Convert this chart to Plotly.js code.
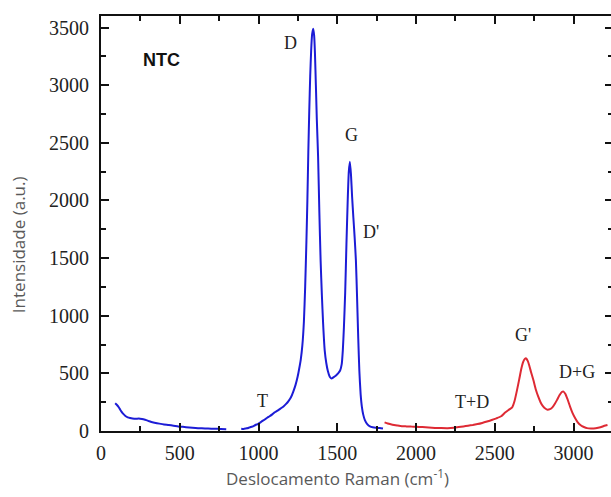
<!DOCTYPE html>
<html>
<head>
<meta charset="utf-8">
<script src="https://cdn.plot.ly/plotly-3.0.1.min.js"></script>
<style>
html,body{margin:0;padding:0;overflow:hidden;background:#fff;}
#chart{width:614px;height:497px;}
</style>
</head>
<body>
<div id="chart"></div>
<script>
const blueLowX = [90, 100, 110, 120, 130, 140, 155, 170, 185, 200, 220, 240, 260, 280, 300, 320, 340, 370, 400, 430, 460, 490, 520, 560, 600, 640, 680, 720, 760, 795];
const blueLowY = [240, 228, 212, 190, 168, 150, 130, 118, 112, 108, 106, 108, 104, 97, 88, 78, 72, 64, 57, 52, 46, 40, 36, 31, 26, 23, 21, 19, 18, 16];
const blueX = [890, 905, 920, 935, 950, 965, 980, 995, 1010, 1025, 1040, 1055, 1070, 1085, 1100, 1115, 1130, 1145, 1160, 1175, 1190, 1205, 1220, 1235, 1248, 1258, 1268, 1278, 1288, 1296, 1304, 1310, 1316, 1322, 1328, 1334, 1340, 1347, 1353, 1358, 1364, 1370, 1378, 1386, 1394, 1402, 1410, 1420, 1430, 1440, 1452, 1463, 1475, 1490, 1505, 1518, 1528, 1535, 1542, 1550, 1558, 1566, 1573, 1580, 1587, 1594, 1602, 1610, 1618, 1625, 1633, 1640, 1648, 1656, 1665, 1675, 1690, 1707, 1725, 1745, 1770, 1790];
const blueY = [20, 18, 22, 26, 35, 40, 52, 60, 72, 88, 100, 115, 128, 142, 160, 172, 185, 200, 215, 235, 260, 290, 340, 400, 470, 540, 620, 740, 950, 1250, 1650, 2000, 2420, 2780, 3080, 3300, 3440, 3490, 3430, 3280, 3000, 2700, 2380, 1900, 1480, 1180, 930, 700, 590, 520, 470, 455, 465, 480, 500, 525, 580, 700, 900, 1200, 1620, 2000, 2250, 2335, 2220, 2030, 1850, 1680, 1480, 1180, 800, 520, 320, 210, 140, 95, 60, 40, 32, 28, 26, 22];
const redX = [1800, 1820, 1850, 1880, 1910, 1940, 1970, 2000, 2040, 2080, 2120, 2160, 2200, 2240, 2270, 2300, 2330, 2360, 2390, 2420, 2450, 2480, 2510, 2540, 2565, 2590, 2610, 2625, 2640, 2655, 2668, 2680, 2690, 2699, 2708, 2718, 2730, 2745, 2760, 2775, 2790, 2805, 2820, 2835, 2850, 2865, 2880, 2895, 2910, 2925, 2936, 2948, 2960, 2978, 2995, 3010, 3025, 3045, 3065, 3085, 3110, 3140, 3170, 3195, 3215];
const redY = [75, 65, 55, 48, 42, 40, 38, 37, 34, 30, 27, 25, 24, 28, 34, 40, 46, 52, 60, 70, 82, 95, 110, 128, 160, 185, 205, 260, 350, 450, 540, 600, 625, 630, 610, 570, 510, 440, 360, 300, 250, 215, 195, 185, 190, 205, 235, 270, 310, 338, 342, 320, 280, 210, 150, 110, 78, 50, 35, 25, 22, 24, 32, 45, 52];

const bandLabels = ["D", "G", "D'", "T", "T+D", "G'", "D+G"];
const bandLabelX = [1200, 1593, 1714, 1028, 2355, 2679, 3021];
const bandLabelY = [3365, 2567, 1726, 260, 252, 833, 512];

const xTickVals = [0, 500, 1000, 1500, 2000, 2500, 3000];
const yTickVals = [0, 500, 1000, 1500, 2000, 2500, 3000, 3500];

const blue = 'rgb(28,28,214)';
const red = 'rgb(222,42,52)';
const serif = 'Liberation Serif';

const lineOpts = c => ({color: c, width: 2, shape: 'spline', smoothing: 0.5});
const traces = [
  {x: blueLowX, y: blueLowY, type: 'scatter', mode: 'lines', line: lineOpts(blue), hoverinfo: 'skip'},
  {x: blueX, y: blueY, type: 'scatter', mode: 'lines', line: lineOpts(blue), hoverinfo: 'skip'},
  {x: redX, y: redY, type: 'scatter', mode: 'lines', line: lineOpts(red), hoverinfo: 'skip'}
];

const annotations = bandLabels.map((t, i) => ({
  text: t, x: bandLabelX[i], y: bandLabelY[i], xref: 'x', yref: 'y',
  showarrow: false, font: {family: serif, size: 18, color: '#222'}
}));
annotations.push({
  text: '<b>NTC</b>', x: 381, y: 3218, xref: 'x', yref: 'y', showarrow: false,
  font: {family: 'Liberation Sans', size: 18, color: '#111'}
});
annotations.push({
  text: 'Deslocamento Raman (cm<sup>-1</sup>)', x: 0.461, y: -0.113, xref: 'paper', yref: 'paper',
  showarrow: false, xanchor: 'center', yanchor: 'middle',
  font: {family: 'Open Sans', size: 17, color: '#595959'}
});
annotations.push({
  text: 'Intensidade (a.u.)', x: -0.162, y: 0.448, xref: 'paper', yref: 'paper',
  showarrow: false, xanchor: 'center', yanchor: 'middle', textangle: -90,
  font: {family: 'Open Sans', size: 17, color: '#595959'}
});

const minorTicks = {dtick: 250, ticks: 'inside', ticklen: 5, tickwidth: 2, tickcolor: '#111', showgrid: false};
const tickFont = {family: serif, size: 20, color: '#222'};

const layout = {
  width: 614, height: 497,
  margin: {l: 101, r: 1, t: 16, b: 66},
  paper_bgcolor: '#fff', plot_bgcolor: '#fff',
  showlegend: false,
  xaxis: {
    range: [0, 3250], tickmode: 'array', tickvals: xTickVals,
    showgrid: false, zeroline: false, showline: true, linecolor: '#111', linewidth: 2,
    mirror: 'ticks', ticks: 'inside', ticklen: 8, tickwidth: 2, tickcolor: '#111',
    tickfont: tickFont, ticklabelstandoff: 3, minor: minorTicks
  },
  yaxis: {
    range: [0, 3600], tickmode: 'array', tickvals: yTickVals,
    showgrid: false, zeroline: false, showline: true, linecolor: '#111', linewidth: 2,
    mirror: 'ticks', ticks: 'inside', ticklen: 8, tickwidth: 2, tickcolor: '#111',
    tickfont: tickFont, ticklabelstandoff: 6, minor: minorTicks
  },
  annotations: annotations
};

Plotly.newPlot('chart', traces, layout, {staticPlot: true, displayModeBar: false});
</script>
</body>
</html>
